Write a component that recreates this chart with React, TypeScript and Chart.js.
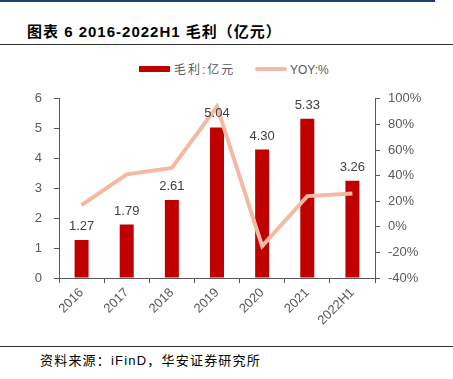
import React, { useEffect, useRef } from "react";
import { Chart, registerables } from "chart.js";

Chart.register(...registerables);

const categories = ["2016", "2017", "2018", "2019", "2020", "2021", "2022H1"];
const grossProfit = [1.27, 1.79, 2.61, 5.04, 4.3, 5.33, 3.26];
const yoy = [17, 41, 46, 94, -15, 24, 26];
const leftTicks = [0, 1, 2, 3, 4, 5, 6];
const rightTicks = [-40, -20, 0, 20, 40, 60, 80, 100];

const BAR_COLOR = "#C00000";
const LINE_COLOR = "#F4B9A3";
const AXIS_COLOR = "#595959";
const FONT = '"Liberation Sans", Arial, "Noto Sans CJK SC", sans-serif';

const barLabelPlugin = {
  id: "barLabels",
  afterDatasetsDraw(chart: any) {
    const meta = chart.getDatasetMeta(1);
    const ctx = chart.ctx;
    ctx.save();
    ctx.font = `13px ${FONT}`;
    ctx.fillStyle = "#404040";
    ctx.textAlign = "center";
    ctx.textBaseline = "alphabetic";
    meta.data.forEach((bar: any, i: number) => {
      ctx.fillText(grossProfit[i].toFixed(2), bar.x, bar.y - 10);
    });
    ctx.restore();
  },
};

export default function App() {
  const ref = useRef<HTMLCanvasElement | null>(null);

  useEffect(() => {
    if (!ref.current) return;
    const chart = new Chart(ref.current, {
      type: "bar",
      data: {
        labels: categories,
        datasets: [
          {
            type: "line",
            label: "YOY:%",
            data: yoy,
            yAxisID: "y1",
            borderColor: LINE_COLOR,
            backgroundColor: LINE_COLOR,
            borderWidth: 4,
            pointRadius: 0,
            tension: 0,
            order: 0,
          } as any,
          {
            type: "bar",
            label: "毛利:亿元",
            data: grossProfit,
            yAxisID: "y",
            backgroundColor: BAR_COLOR,
            barPercentage: 0.31,
            categoryPercentage: 1,
            order: 1,
          },
        ],
      },
      options: {
        animation: false,
        responsive: true,
        maintainAspectRatio: false,
        layout: { padding: { top: 7, left: 0, right: 0, bottom: 0 } },
        plugins: { legend: { display: false }, tooltip: { enabled: false } },
        scales: {
          x: {
            offset: true,
            grid: {
              display: true,
              drawOnChartArea: false,
              drawTicks: true,
              tickLength: 5,
              color: AXIS_COLOR,
              offset: true,
            },
            border: { display: true, color: AXIS_COLOR, width: 1 },
            ticks: {
              color: AXIS_COLOR,
              font: { size: 13, family: FONT },
              maxRotation: 45,
              minRotation: 45,
              padding: 2,
            },
            afterFit(scale: any) {
              scale.height = 62;
            },
          },
          y: {
            position: "left",
            min: 0,
            max: 6,
            afterBuildTicks(scale: any) {
              scale.ticks = leftTicks.map((v) => ({ value: v }));
            },
            grid: {
              drawOnChartArea: false,
              drawTicks: true,
              tickLength: 5,
              color: AXIS_COLOR,
            },
            border: { display: true, color: AXIS_COLOR, width: 1 },
            ticks: {
              color: AXIS_COLOR,
              font: { size: 13, family: FONT },
              padding: 12,
              callback: (v: any) => String(v),
            },
            afterFit(scale: any) {
              scale.width = 59;
            },
          },
          y1: {
            position: "right",
            min: -40,
            max: 100,
            afterBuildTicks(scale: any) {
              scale.ticks = rightTicks.map((v) => ({ value: v }));
            },
            grid: {
              drawOnChartArea: false,
              drawTicks: true,
              tickLength: 5,
              color: AXIS_COLOR,
            },
            border: { display: true, color: AXIS_COLOR, width: 1 },
            ticks: {
              color: AXIS_COLOR,
              font: { size: 13, family: FONT },
              padding: 8,
              callback: (v: any) => `${v}%`,
            },
            afterFit(scale: any) {
              scale.width = 78;
            },
          },
        },
      },
      plugins: [barLabelPlugin],
    });
    return () => chart.destroy();
  }, []);

  return (
    <div
      style={{
        position: "absolute",
        left: 0,
        top: 0,
        width: 453,
        height: 379,
        background: "#fff",
        overflow: "hidden",
        fontFamily: FONT,
      }}
    >
      <div style={{ position: "absolute", left: 0, top: 0, width: 435, height: 2, background: "#1F3E6E" }} />
      <div
        style={{
          position: "absolute",
          left: 27,
          top: 22,
          fontSize: 15,
          fontWeight: "bold",
          lineHeight: "20px",
          color: "#000",
          letterSpacing: 1,
          whiteSpace: "nowrap",
        }}
      >
        图表 6 2016-2022H1 毛利（亿元）
      </div>
      <div style={{ position: "absolute", left: 0, top: 44, width: 453, height: 1, background: "#333" }} />

      <div style={{ position: "absolute", left: 139, top: 66, width: 31, height: 6, background: BAR_COLOR }} />
      <div
        style={{
          position: "absolute",
          left: 174,
          top: 61,
          fontSize: 12,
          lineHeight: "18px",
          color: AXIS_COLOR,
          letterSpacing: 2,
          whiteSpace: "nowrap",
        }}
      >
        毛利:亿元
      </div>
      <div
        style={{
          position: "absolute",
          left: 255,
          top: 67,
          width: 32,
          height: 4,
          borderRadius: 2,
          background: LINE_COLOR,
        }}
      />
      <div
        style={{
          position: "absolute",
          left: 290,
          top: 61,
          fontSize: 12,
          lineHeight: "18px",
          color: AXIS_COLOR,
          whiteSpace: "nowrap",
        }}
      >
        YOY:%
      </div>

      <div style={{ position: "absolute", left: 0, top: 79, width: 453, height: 261 }}>
        <canvas ref={ref} />
      </div>

      <div style={{ position: "absolute", left: 0, top: 346, width: 453, height: 1, background: "#333" }} />
      <div
        style={{
          position: "absolute",
          left: 40,
          top: 352,
          fontSize: 13,
          lineHeight: "18px",
          color: "#000",
          letterSpacing: 1.2,
          whiteSpace: "nowrap",
        }}
      >
        资料来源：iFinD，华安证券研究所
      </div>
    </div>
  );
}
